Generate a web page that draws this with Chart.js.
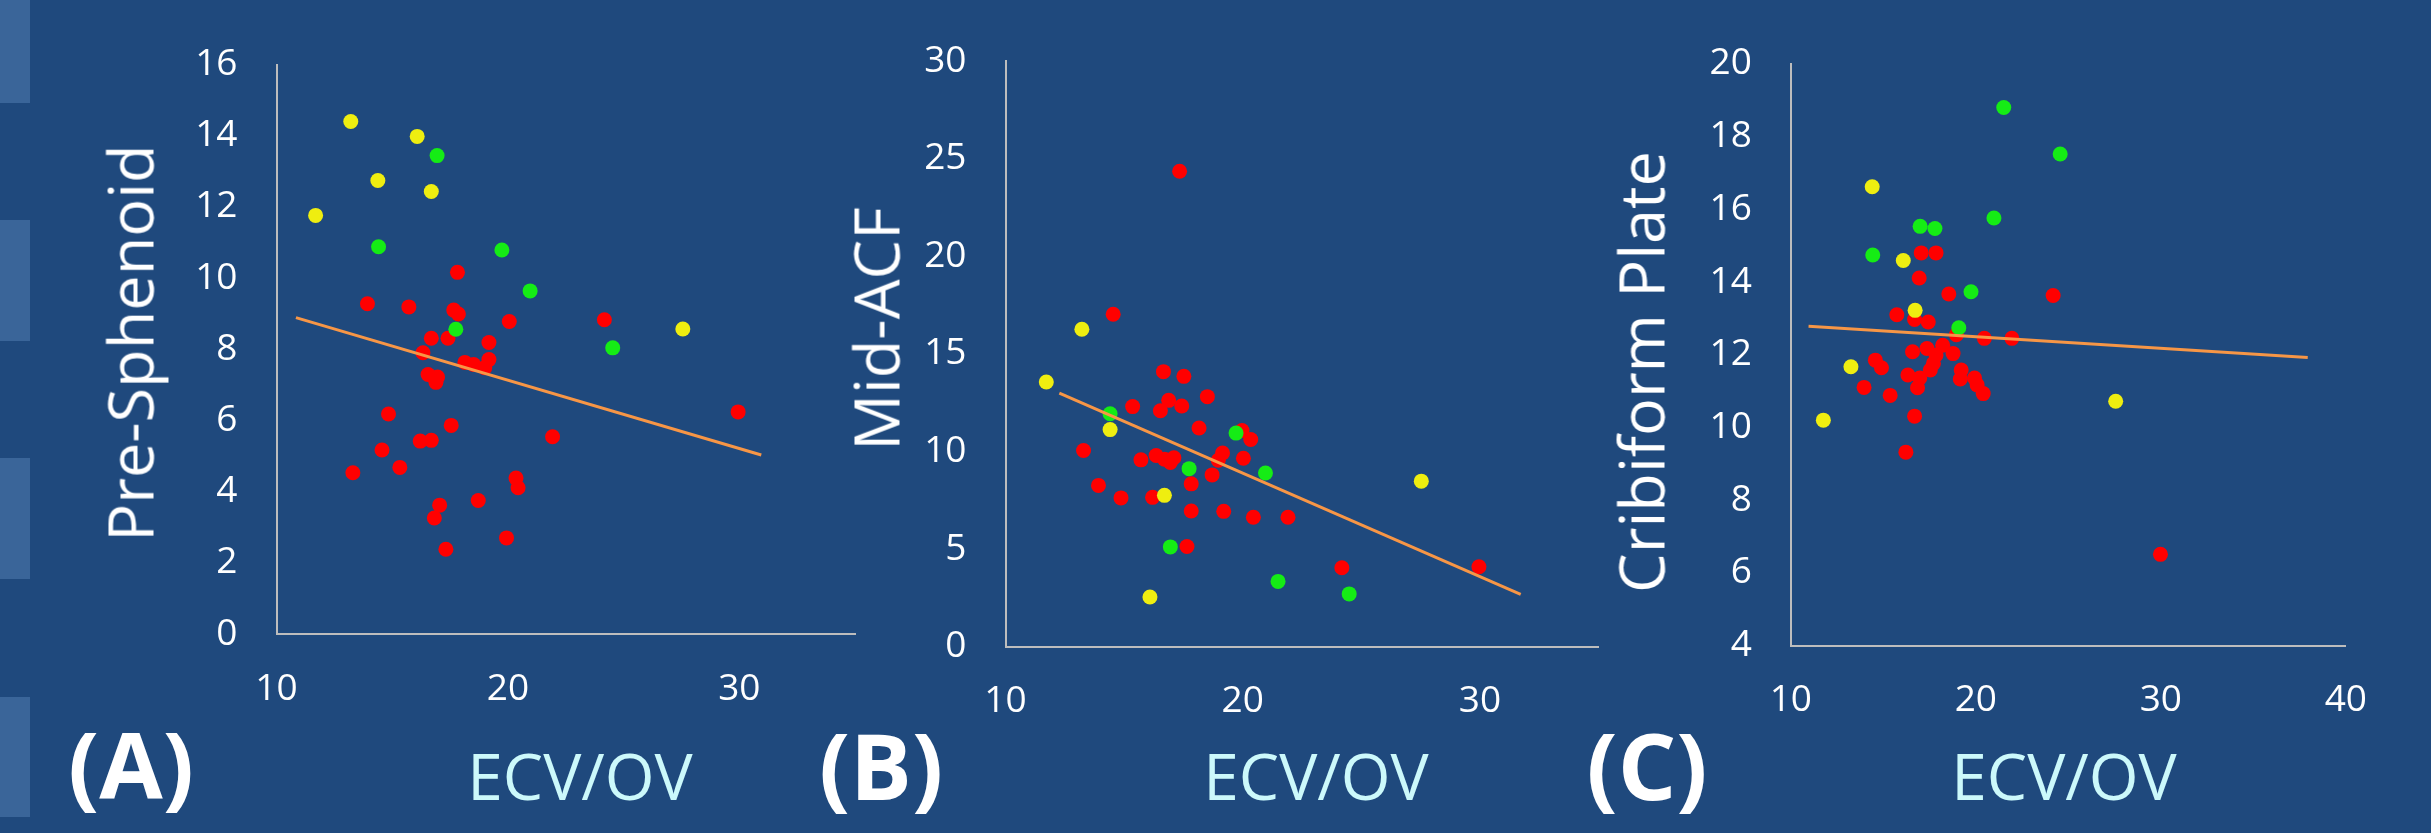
<!DOCTYPE html>
<html>
<head>
<meta charset="utf-8">
<script src="https://cdn.jsdelivr.net/npm/chart.js@4/dist/chart.umd.min.js"></script>
<style>
  html, body { margin: 0; padding: 0; }
  body { width: 2431px; height: 833px; background: #1F497D; position: relative; overflow: hidden; font-family: 'Open Sans', sans-serif; }
  canvas { position: absolute; top: 0; }
  .deco { position: absolute; left: 0; width: 30px; background: #3a6599; }
  .ytitle { position: absolute; font-size: 63px; line-height: 1; color: #ffffff; white-space: nowrap;
            transform: translate(-50%, -50%) rotate(-90deg); }
  .xtitle { position: absolute; font-size: 64px; line-height: 1; color: #ccf9fb; white-space: nowrap;
            transform: translate(-50%, -50%); }
  .plabel { position: absolute; font-size: 92px; font-weight: 700; line-height: 1; color: #ffffff; white-space: nowrap;
            transform: translate(-50%, -50%); }
</style>
</head>
<body>
<div class="deco" style="top:0;height:103px"></div>
<div class="deco" style="top:220px;height:121px"></div>
<div class="deco" style="top:458px;height:121px"></div>
<div class="deco" style="top:697px;height:120px"></div>

<canvas id="cA" width="830" height="833" style="left:40px"></canvas>
<canvas id="cB" width="780" height="833" style="left:840px"></canvas>
<canvas id="cC" width="800" height="833" style="left:1600px"></canvas>

<div class="ytitle" style="left:129px;top:343px">Pre-Sphenoid</div>
<div class="ytitle" style="left:875px;top:329px">Mid-ACF</div>
<div class="ytitle" style="left:1640px;top:372px">Cribiform Plate</div>

<div class="xtitle" style="left:580px;top:776px">ECV/OV</div>
<div class="xtitle" style="left:1316px;top:776px">ECV/OV</div>
<div class="xtitle" style="left:2064px;top:776px">ECV/OV</div>

<div class="plabel" style="left:131px;top:764px">(A)</div>
<div class="plabel" style="left:881px;top:765px">(B)</div>
<div class="plabel" style="left:1647px;top:765px">(C)</div>

<script>
// ---------- Panel A: Pre-Sphenoid vs ECV/OV ----------
const yellowA_x = [13.21, 16.08, 14.38, 16.69, 11.69, 27.56];
const yellowA_y = [14.40, 13.98, 12.74, 12.43, 11.76, 8.57];
const greenA_x = [16.94, 14.41, 19.74, 20.96, 17.75, 24.53];
const greenA_y = [13.44, 10.88, 10.79, 9.64, 8.56, 8.04];
const redA_x = [17.82, 13.93, 15.72, 17.66, 17.86, 20.06, 24.17, 16.69, 17.41, 19.18,
                16.33, 18.14, 18.52, 19.18, 19.00, 16.55, 16.96, 16.89, 14.84, 17.55,
                29.95, 16.21, 16.69, 21.93, 14.56, 15.33, 13.30, 20.35, 20.44, 18.72,
                17.05, 16.82, 19.94, 17.32];
const redA_y = [10.16, 9.28, 9.19, 9.10, 8.99, 8.78, 8.83, 8.31, 8.31, 8.19,
                7.90, 7.63, 7.57, 7.71, 7.48, 7.29, 7.22, 7.07, 6.18, 5.86,
                6.24, 5.42, 5.44, 5.54, 5.17, 4.68, 4.53, 4.38, 4.11, 3.75,
                3.62, 3.26, 2.70, 2.38];
const trendA_x = [10.84, 30.95];
const trendA_y = [8.89, 5.03];

// ---------- Panel B: Mid-ACF vs ECV/OV ----------
const yellowB_x = [11.72, 13.22, 14.41, 16.70, 16.09, 27.53];
const yellowB_y = [13.56, 16.26, 11.12, 7.75, 2.54, 8.48];
const greenB_x = [14.41, 19.72, 17.74, 20.96, 16.95, 21.49, 24.49];
const greenB_y = [11.93, 10.94, 9.12, 8.90, 5.11, 3.34, 2.70];
const redB_x = [17.34, 14.54, 16.66, 17.52, 18.51, 15.36, 16.88, 17.43, 16.53, 18.16,
                19.97, 20.34, 13.29, 19.15, 18.97, 20.03, 15.71, 16.35, 16.70, 17.10,
                16.95, 18.71, 13.92, 17.83, 14.87, 16.20, 17.83, 19.20, 20.45, 21.91,
                17.65, 24.18, 29.96];
const redB_y = [24.36, 17.03, 14.09, 13.85, 12.81, 12.30, 12.62, 12.33, 12.09, 11.20,
                11.07, 10.61, 10.05, 9.92, 9.55, 9.65, 9.57, 9.79, 9.60, 9.68,
                9.44, 8.80, 8.26, 8.34, 7.62, 7.65, 6.95, 6.93, 6.63, 6.63,
                5.13, 4.04, 4.09];
const trendB_x = [12.27, 31.72];
const trendB_y = [12.99, 2.67];

// ---------- Panel C: Cribiform Plate vs ECV/OV ----------
const yellowC_x = [14.40, 16.08, 16.72, 13.25, 11.76, 27.56];
const yellowC_y = [16.62, 14.59, 13.22, 11.67, 10.20, 10.72];
const greenC_x = [21.51, 24.56, 20.98, 16.99, 17.79, 14.43, 19.74, 19.08];
const greenC_y = [18.80, 17.52, 15.76, 15.53, 15.47, 14.74, 13.73, 12.74];
const redC_x = [17.05, 17.85, 16.94, 18.54, 24.18, 15.73, 16.69, 17.43, 18.95, 20.46,
                21.95, 18.21, 17.36, 16.58, 18.77, 17.85, 17.71, 14.57, 14.90, 17.54,
                19.21, 16.33, 16.97, 19.16, 19.93, 20.07, 16.85, 13.96, 15.37, 20.40,
                16.69, 16.22, 29.98];
const redC_y = [14.80, 14.80, 14.11, 13.67, 13.63, 13.10, 12.97, 12.90, 12.55, 12.45,
                12.45, 12.26, 12.17, 12.08, 12.03, 11.99, 11.76, 11.85, 11.64, 11.58,
                11.58, 11.44, 11.36, 11.33, 11.36, 11.17, 11.09, 11.10, 10.88, 10.93,
                10.31, 9.32, 6.51];
const trendC_x = [10.96, 37.94];
const trendC_y = [12.78, 11.92];

// ---------- rendering ----------
const pts = (xs, ys) => xs.map((x, i) => ({ x: x, y: ys[i] }));
const TICK_FONT = { family: "'Open Sans', sans-serif", size: 37 };
const AXIS_COLOR = '#bdbdbd';

function scatterSet(data, color, order) {
  return {
    data: data, order: order, showLine: false,
    pointRadius: 7.5, pointHoverRadius: 7.5, pointBorderWidth: 0,
    pointBackgroundColor: color, backgroundColor: color, borderColor: color
  };
}

function makePanel(id, groups, trend, cfg) {
  const datasets = [
    { data: trend, order: 0, showLine: true, borderColor: '#f79646', borderWidth: 3,
      pointRadius: 0, pointHoverRadius: 0, fill: false },
    scatterSet(groups.yellow, '#efee10', 1),
    scatterSet(groups.green, '#15ec15', 2),
    scatterSet(groups.red, '#ff0000', 3)
  ];
  return new Chart(document.getElementById(id), {
    type: 'scatter',
    data: { datasets: datasets },
    options: {
      responsive: false, animation: false, devicePixelRatio: 1,
      layout: { padding: { top: cfg.padTop, right: cfg.padRight, bottom: 0, left: 0 } },
      plugins: { legend: { display: false }, tooltip: { enabled: false } },
      events: [],
      scales: {
        x: {
          type: 'linear', min: cfg.xMin, max: cfg.xMax,
          afterFit: (s) => { s.height = cfg.xHeight; },
          grid: { display: false, drawTicks: false },
          border: { display: true, color: AXIS_COLOR, width: 2 },
          ticks: { stepSize: 10, includeBounds: false, color: '#ffffff', font: TICK_FONT, padding: 33, maxRotation: 0 }
        },
        y: {
          type: 'linear', min: cfg.yMin, max: cfg.yMax,
          afterFit: (s) => { s.width = cfg.yWidth; },
          grid: { display: false, drawTicks: false },
          border: { display: true, color: AXIS_COLOR, width: 2 },
          ticks: { stepSize: cfg.yStep, color: '#ffffff', font: TICK_FONT, padding: 39 }
        }
      }
    }
  });
}

makePanel('cA',
  { yellow: pts(yellowA_x, yellowA_y), green: pts(greenA_x, greenA_y), red: pts(redA_x, redA_y) },
  pts(trendA_x, trendA_y),
  { xMin: 10, xMax: 35, yMin: 0, yMax: 16, yStep: 2, yWidth: 236.5, xHeight: 199, padTop: 64.5, padRight: 15 });

makePanel('cB',
  { yellow: pts(yellowB_x, yellowB_y), green: pts(greenB_x, greenB_y), red: pts(redB_x, redB_y) },
  pts(trendB_x, trendB_y),
  { xMin: 10, xMax: 35, yMin: 0, yMax: 30, yStep: 5, yWidth: 165.5, xHeight: 186.4, padTop: 50.5, padRight: 21.5 });

makePanel('cC',
  { yellow: pts(yellowC_x, yellowC_y), green: pts(greenC_x, greenC_y), red: pts(redC_x, redC_y) },
  pts(trendC_x, trendC_y),
  { xMin: 10, xMax: 40, yMin: 4, yMax: 20, yStep: 2, yWidth: 190.8, xHeight: 187.4, padTop: 63.8, padRight: 32 });
</script>
</body>
</html>
